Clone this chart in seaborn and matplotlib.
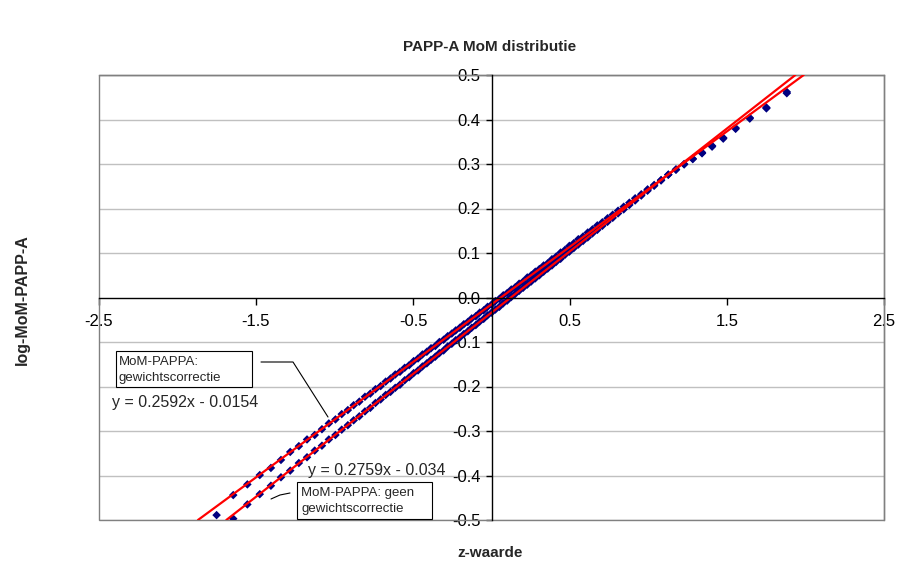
import matplotlib
matplotlib.use("Agg")
import matplotlib.pyplot as plt
import seaborn as sns
import pandas as pd
from matplotlib.patches import Rectangle
from matplotlib.lines import Line2D

# ---------------- data ----------------
z_values = [-1.881, -1.751, -1.645, -1.555, -1.476, -1.405, -1.341, -1.282, -1.227, -1.175,
            -1.126, -1.080, -1.036, -0.994, -0.954, -0.915, -0.878, -0.842, -0.806, -0.772,
            -0.739, -0.706, -0.674, -0.643, -0.613, -0.583, -0.553, -0.524, -0.496, -0.468,
            -0.440, -0.412, -0.385, -0.358, -0.332, -0.305, -0.279, -0.253, -0.228, -0.202,
            -0.176, -0.151, -0.126, -0.100, -0.075, -0.050, -0.025, 0.000, 0.025, 0.050,
            0.075, 0.100, 0.126, 0.151, 0.176, 0.202, 0.228, 0.253, 0.279, 0.305,
            0.332, 0.358, 0.385, 0.412, 0.440, 0.468, 0.496, 0.524, 0.553, 0.583,
            0.613, 0.643, 0.674, 0.706, 0.739, 0.772, 0.806, 0.842, 0.878, 0.915,
            0.954, 0.994, 1.036, 1.080, 1.126, 1.175, 1.227, 1.282, 1.341, 1.405,
            1.476, 1.555, 1.645, 1.751, 1.881]

log_mom_gewicht = [-0.530, -0.489, -0.444, -0.420, -0.399, -0.383, -0.365, -0.347, -0.334, -0.319,
                   -0.309, -0.296, -0.283, -0.274, -0.262, -0.253, -0.242, -0.234, -0.223, -0.216,
                   -0.206, -0.199, -0.189, -0.182, -0.173, -0.167, -0.158, -0.152, -0.143, -0.137,
                   -0.128, -0.122, -0.114, -0.109, -0.100, -0.095, -0.087, -0.081, -0.074, -0.068,
                   -0.060, -0.055, -0.047, -0.042, -0.034, -0.029, -0.021, -0.016, -0.008, -0.003,
                   0.005, 0.010, 0.018, 0.023, 0.031, 0.036, 0.045, 0.050, 0.058, 0.064,
                   0.072, 0.077, 0.086, 0.092, 0.101, 0.107, 0.116, 0.122, 0.131, 0.137,
                   0.146, 0.153, 0.162, 0.169, 0.178, 0.186, 0.195, 0.204, 0.213, 0.223,
                   0.232, 0.243, 0.253, 0.264, 0.276, 0.287, 0.299, 0.311, 0.324, 0.339,
                   0.357, 0.379, 0.402, 0.425, 0.459]

log_mom_geen = [-0.570, -0.530, -0.497, -0.465, -0.442, -0.423, -0.404, -0.389, -0.372, -0.359,
                -0.344, -0.333, -0.319, -0.309, -0.297, -0.287, -0.276, -0.267, -0.256, -0.248,
                -0.237, -0.229, -0.219, -0.212, -0.203, -0.196, -0.186, -0.179, -0.170, -0.164,
                -0.155, -0.148, -0.140, -0.133, -0.125, -0.119, -0.110, -0.104, -0.096, -0.090,
                -0.082, -0.076, -0.068, -0.062, -0.054, -0.048, -0.040, -0.034, -0.027, -0.021,
                -0.013, -0.007, 0.001, 0.008, 0.015, 0.022, 0.029, 0.036, 0.043, 0.050,
                0.058, 0.065, 0.072, 0.080, 0.087, 0.096, 0.103, 0.111, 0.119, 0.127,
                0.135, 0.144, 0.152, 0.161, 0.170, 0.179, 0.189, 0.198, 0.208, 0.218,
                0.229, 0.240, 0.251, 0.263, 0.276, 0.288, 0.300, 0.312, 0.326, 0.341,
                0.359, 0.381, 0.404, 0.427, 0.462]

series_names = ["MoM-PAPPA: gewichtscorrectie", "MoM-PAPPA: geen gewichtscorrectie"]
trend_slopes = [0.2592, 0.2759]
trend_intercepts = [-0.0154, -0.034]
trend_labels = ["y = 0.2592x - 0.0154", "y = 0.2759x - 0.034"]

x_ticks = [-2.5, -1.5, -0.5, 0.5, 1.5, 2.5]
x_tick_labels = ["-2.5", "-1.5", "-0.5", "0.5", "1.5", "2.5"]
y_ticks = [-0.5, -0.4, -0.3, -0.2, -0.1, 0.0, 0.1, 0.2, 0.3, 0.4, 0.5]
y_tick_labels = ["-0.5", "-0.4", "-0.3", "-0.2", "-0.1", "0.0", "0.1", "0.2", "0.3", "0.4", "0.5"]

title = "PAPP-A MoM distributie"
x_label = "z-waarde"
y_label = "log-MoM-PAPP-A"

# ---------------- figure ----------------
sns.set_theme(style="white")
plt.rcParams['font.family'] = ['Liberation Sans', 'DejaVu Sans']

W, H = 900, 564
fig = plt.figure(figsize=(9, 5.64), dpi=100)
fig.patch.set_facecolor("white")


def fx(px):
    return px / W


def fy(py):
    return 1 - py / H


L, R, T, B = 99, 884, 75, 520
ax = fig.add_axes([fx(L), fy(B), (R - L) / W, (B - T) / H])
ax.set_facecolor("white")

df = pd.DataFrame({
    "z": z_values + z_values,
    "y": log_mom_gewicht + log_mom_geen,
    "serie": [series_names[0]] * len(z_values) + [series_names[1]] * len(z_values),
})

# gridlines
for yv in y_ticks:
    if yv != 0.0:
        ax.axhline(yv, color="#c0c0c0", lw=1.0, zorder=0)

sns.scatterplot(data=df, x="z", y="y", hue="serie",
                palette={series_names[0]: "#000080", series_names[1]: "#000080"},
                marker="D", s=19, edgecolor="none", linewidth=0, legend=False,
                ax=ax, zorder=3)

for sl, ic in zip(trend_slopes, trend_intercepts):
    ax.axline((0, ic), slope=sl, color="#ff0000", lw=1.6, zorder=4)

ax.set_xlim(-2.5, 2.5)
ax.set_ylim(-0.5, 0.5)
ax.set_xlabel("")
ax.set_ylabel("")

# axes crossing at origin
ax.spines["left"].set_position(("data", 0))
ax.spines["bottom"].set_position(("data", 0))
for s in ["left", "bottom"]:
    ax.spines[s].set_color("black")
    ax.spines[s].set_linewidth(1.0)
    ax.spines[s].set_zorder(5)
for s in ["top", "right"]:
    ax.spines[s].set_color("#808080")
    ax.spines[s].set_linewidth(1.0)
frame = Rectangle((0, 0), 1, 1, transform=ax.transAxes, fill=False,
                  edgecolor="#808080", lw=1.0, clip_on=False, zorder=1)
ax.add_patch(frame)

ax.set_xticks(x_ticks)
ax.set_xticklabels(x_tick_labels)
ax.set_yticks(y_ticks)
ax.set_yticklabels(y_tick_labels)
ax.tick_params(axis="x", direction="out", length=5, width=1, color="black",
               pad=7, labelsize=12, bottom=True)
ax.tick_params(axis="y", direction="out", length=4, width=1, color="black",
               pad=4, labelsize=12, left=True)
for lab in ax.get_xticklabels() + ax.get_yticklabels():
    lab.set_color("black")

# titles
fig.text(fx(490), fy(47), title, ha="center", va="center", fontsize=11, fontweight="bold")
fig.text(fx(490), fy(553), x_label, ha="center", va="center", fontsize=11, fontweight="bold")
fig.text(fx(22), fy(300), y_label, ha="center", va="center", rotation=90,
         fontsize=11.5, fontweight="bold")

# annotation boxes
box1 = Rectangle((fx(116), fy(387)), (252 - 116) / W, (387 - 351) / H,
                 transform=fig.transFigure, facecolor="white", edgecolor="black", lw=0.8)
fig.add_artist(box1)
fig.text(fx(119), fy(362), "MoM-PAPPA:", ha="left", va="center", fontsize=9.5)
fig.text(fx(119), fy(378), "gewichtscorrectie", ha="left", va="center", fontsize=9.5)
fig.text(fx(112), fy(403), trend_labels[0], ha="left", va="center", fontsize=11.5)
fig.add_artist(Line2D([fx(261), fx(293), fx(328)], [fy(362), fy(362), fy(417)],
                      transform=fig.transFigure, color="black", lw=0.8))

box2 = Rectangle((fx(297), fy(519)), (432 - 297) / W, (519 - 482) / H,
                 transform=fig.transFigure, facecolor="white", edgecolor="black", lw=0.8)
fig.add_artist(box2)
fig.text(fx(301), fy(493), "MoM-PAPPA: geen", ha="left", va="center", fontsize=9.5)
fig.text(fx(301), fy(509), "gewichtscorrectie", ha="left", va="center", fontsize=9.5)
fig.text(fx(308), fy(470), trend_labels[1], ha="left", va="center", fontsize=11.5)
fig.add_artist(Line2D([fx(271), fx(280), fx(290)], [fy(499), fy(495), fy(493)],
                      transform=fig.transFigure, color="black", lw=0.8))

fig.savefig("out.png", dpi=100, facecolor="white")
